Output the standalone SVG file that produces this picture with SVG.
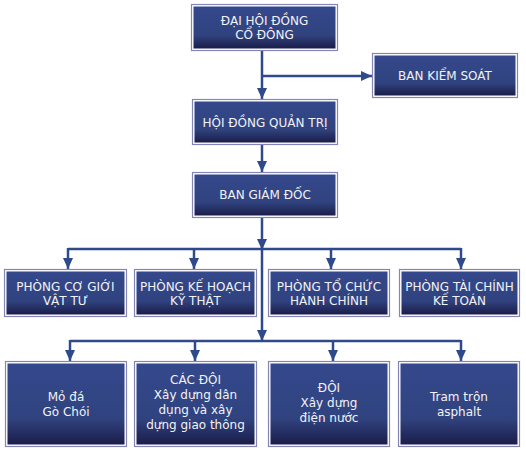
<svg xmlns="http://www.w3.org/2000/svg" width="526" height="457" viewBox="0 0 526 457">
<defs>
<linearGradient id="g" x1="0" y1="0" x2="0" y2="1">
<stop offset="0" stop-color="#34488c"/>
<stop offset="0.68" stop-color="#30437f"/>
<stop offset="1" stop-color="#1b1d4a"/>
</linearGradient>
<marker id="ah" markerUnits="userSpaceOnUse" markerWidth="12" markerHeight="10" viewBox="0 0 12 10" refX="11" refY="5" orient="auto">
<path d="M0,0 L11,5 L0,10 Z" fill="#2e4a8b"/>
</marker>
<style>
.o{fill:#ffffff;stroke:#8585b5;stroke-width:1.2}
.i{fill:url(#g)}
.t{font-family:"DejaVu Sans","Liberation Sans",Arial,sans-serif;font-size:12px;fill:#f2f2f6;text-anchor:middle}
.c{fill:none;stroke:#2e4a8b;stroke-width:2.5}
</style>
</defs>
<rect width="526" height="457" fill="#ffffff"/>
<g id="connectors">
<path class="c" d="M262,51 V99" marker-end="url(#ah)"/>
<path class="c" d="M262,76 H372" marker-end="url(#ah)"/>
<path class="c" d="M262,145 V172" marker-end="url(#ah)"/>
<path class="c" d="M262,218 V250" marker-end="url(#ah)"/>
<path class="c" d="M262,249 V341" marker-end="url(#ah)"/>
<path class="c" d="M68,249 H461"/>
<path class="c" d="M68,248 V269" marker-end="url(#ah)"/>
<path class="c" d="M194,248 V269" marker-end="url(#ah)"/>
<path class="c" d="M331,248 V269" marker-end="url(#ah)"/>
<path class="c" d="M461,248 V269" marker-end="url(#ah)"/>
<path class="c" d="M70,341 H461"/>
<path class="c" d="M70,340 V361" marker-end="url(#ah)"/>
<path class="c" d="M195,340 V361" marker-end="url(#ah)"/>
<path class="c" d="M333,340 V361" marker-end="url(#ah)"/>
<path class="c" d="M461,340 V361" marker-end="url(#ah)"/>
</g>
<g id="dhdcd">
<rect class="o" x="191.5" y="4.5" width="146" height="46"/>
<rect class="i" x="193.5" y="6.5" width="142" height="42"/>
<text class="t" x="264.5" y="25">ĐẠI HỘI ĐỒNG</text>
<text class="t" x="264.5" y="39">CỔ ĐÔNG</text>
</g>
<g id="bks">
<rect class="o" x="372.5" y="53.5" width="145" height="44"/>
<rect class="i" x="374.5" y="55.5" width="141" height="40"/>
<text class="t" x="445" y="80">BAN KIỂM SOÁT</text>
</g>
<g id="hdqt">
<rect class="o" x="192.5" y="99.5" width="145" height="45"/>
<rect class="i" x="194.5" y="101.5" width="141" height="41"/>
<text class="t" x="265" y="127">HỘI ĐỒNG QUẢN TRỊ</text>
</g>
<g id="bgd">
<rect class="o" x="192.5" y="172.5" width="145" height="45"/>
<rect class="i" x="194.5" y="174.5" width="141" height="41"/>
<text class="t" x="265" y="199">BAN GIÁM ĐỐC</text>
</g>
<g id="pcgvt">
<rect class="o" x="4.5" y="269.5" width="122" height="47"/>
<rect class="i" x="6.5" y="271.5" width="118" height="43"/>
<text class="t" x="65.5" y="291">PHÒNG CƠ GIỚI</text>
<text class="t" x="65.5" y="305">VẬT TƯ</text>
</g>
<g id="pkhkt">
<rect class="o" x="134.5" y="269.5" width="122" height="47"/>
<rect class="i" x="136.5" y="271.5" width="118" height="43"/>
<text class="t" x="195.5" y="291">PHÒNG KẾ HOẠCH</text>
<text class="t" x="195.5" y="305">KỸ THẬT</text>
</g>
<g id="ptchc">
<rect class="o" x="268.5" y="269.5" width="121" height="47"/>
<rect class="i" x="270.5" y="271.5" width="117" height="43"/>
<text class="t" x="329" y="291">PHÒNG TỔ CHỨC</text>
<text class="t" x="329" y="305">HÀNH CHÍNH</text>
</g>
<g id="ptckt">
<rect class="o" x="399.5" y="269.5" width="120" height="47"/>
<rect class="i" x="401.5" y="271.5" width="116" height="43"/>
<text class="t" x="459.5" y="291">PHÒNG TÀI CHÍNH</text>
<text class="t" x="459.5" y="305">KẾ TOÁN</text>
</g>
<g id="mda">
<rect class="o" x="5.5" y="361.5" width="121" height="85"/>
<rect class="i" x="7.5" y="363.5" width="117" height="81"/>
<text class="t" x="66" y="401">Mỏ đá</text>
<text class="t" x="66" y="416">Gò Chói</text>
</g>
<g id="cacdoi">
<rect class="o" x="134.5" y="361.5" width="122" height="85"/>
<rect class="i" x="136.5" y="363.5" width="118" height="81"/>
<text class="t" x="195.5" y="384">CÁC ĐỘI</text>
<text class="t" x="195.5" y="399">Xây dựng dân</text>
<text class="t" x="195.5" y="414">dụng và xây</text>
<text class="t" x="195.5" y="429">dựng giao thông</text>
</g>
<g id="doi">
<rect class="o" x="268.5" y="361.5" width="121" height="85"/>
<rect class="i" x="270.5" y="363.5" width="117" height="81"/>
<text class="t" x="329" y="392">ĐỘI</text>
<text class="t" x="329" y="407">Xây dựng</text>
<text class="t" x="329" y="422">điện nước</text>
</g>
<g id="tram">
<rect class="o" x="398.5" y="361.5" width="121" height="85"/>
<rect class="i" x="400.5" y="363.5" width="117" height="81"/>
<text class="t" x="459" y="401">Tram trộn</text>
<text class="t" x="459" y="416">asphalt</text>
</g>
</svg>
